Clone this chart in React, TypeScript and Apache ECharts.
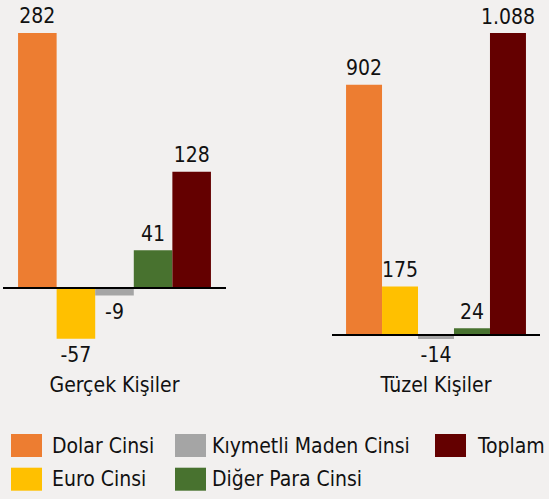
import React, { useEffect, useRef } from "react";
import * as echarts from "echarts";

const seriesNames = ["Dolar Cinsi", "Euro Cinsi", "Kıymetli Maden Cinsi", "Diğer Para Cinsi", "Toplam"];
const colors = ["#ED7D31", "#FFC000", "#A5A5A5", "#48722F", "#640000"];
const gercekValues = [282, -57, -9, 41, 128];
const tuzelValues = [902, 175, -14, 24, 1088];
const panelCategories = ["Gerçek Kişiler", "Tüzel Kişiler"];

const FONT = "'DejaVu Sans Condensed', 'DejaVu Sans', sans-serif";

function fmt(v: number): string {
  const s = Math.abs(v).toString();
  const withSep = s.replace(/\B(?=(\d{3})+(?!\d))/g, ".");
  return (v < 0 ? "-" : "") + withSep;
}

export default function App() {
  const ref = useRef<HTMLDivElement>(null);
  useEffect(() => {
    if (!ref.current) return;
    const chart = echarts.init(ref.current, undefined, { renderer: "svg" });
    const panels = [gercekValues, tuzelValues];
    const series: any[] = [];
    panels.forEach((vals, gi) => {
      vals.forEach((v, si) => {
        series.push({
          type: "bar",
          name: seriesNames[si],
          xAxisIndex: gi,
          yAxisIndex: gi,
          barGap: "0%",
          barCategoryGap: "13.5%",
          itemStyle: { color: colors[si] },
          data: [
            {
              value: v,
              label: {
                show: true,
                position: v < 0 ? "bottom" : "top",
                distance: 6,
                formatter: () => fmt(v),
                color: "#111",
                fontSize: 21,
                fontFamily: FONT,
              },
            },
          ],
          markLine:
            si === 0
              ? {
                  silent: true,
                  symbol: "none",
                  label: { show: false },
                  lineStyle: { color: "#000", width: 2, type: "solid" },
                  data: [{ yAxis: 0 }],
                  z: 10,
                }
              : undefined,
        });
      });
    });
    const legendCommon = {
      orient: "vertical",
      top: 434,
      padding: 0,
      itemWidth: 31,
      itemHeight: 23,
      itemGap: 10.7,
      icon: "rect",
      selectedMode: false,
    };
    const textStyle = (pad: number) => ({
      fontSize: 21,
      fontFamily: FONT,
      color: "#111",
      padding: [0, 0, 0, pad],
    });
    chart.setOption({
      animation: false,
      backgroundColor: "#F2F0EF",
      legend: [
        { ...legendCommon, left: 11, data: [seriesNames[0], seriesNames[1]], textStyle: textStyle(5) },
        { ...legendCommon, left: 175, data: [seriesNames[2], seriesNames[3]], textStyle: textStyle(1) },
        { ...legendCommon, left: 435, data: [seriesNames[4]], textStyle: textStyle(7) },
      ],
      grid: [
        { left: 3, width: 223, top: 16.7, height: 351.8 },
        { left: 332, width: 208, top: 15.8, height: 352.5 },
      ],
      xAxis: panelCategories.map((c, i) => ({
        type: "category",
        gridIndex: i,
        data: [c],
        axisLine: { show: false, onZero: false },
        axisTick: { show: false },
        axisLabel: { fontSize: 21, fontFamily: FONT, color: "#111", margin: 6 },
      })),
      yAxis: [
        { type: "value", gridIndex: 0, min: -90, max: 300, show: false, splitLine: { show: false } },
        { type: "value", gridIndex: 1, min: -120, max: 1150, show: false, splitLine: { show: false } },
      ],
      series,
    });
    return () => chart.dispose();
  }, []);
  return (
    <div
      ref={ref}
      style={{ position: "fixed", left: 0, top: 0, width: 549, height: 499 }}
    />
  );
}
